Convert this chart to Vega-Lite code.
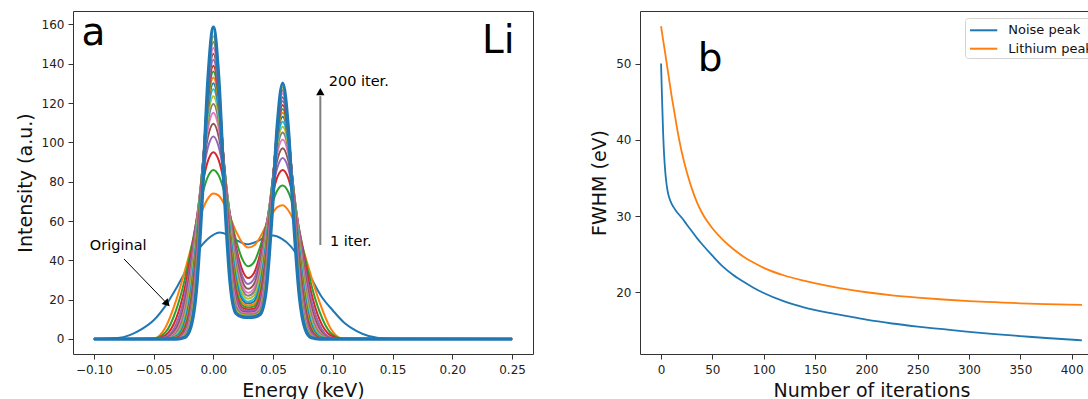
{
"$schema":"https://vega.github.io/schema/vega-lite/v6.json",
"padding":{"left":15,"top":10,"right":5,"bottom":5},
"config":{
"font":"DejaVu Sans",
"view":{"stroke":"#333","strokeWidth":1},
"axis":{"grid":false,"domain":false,"tickColor":"#333","tickSize":5,"tickWidth":1,"labelFont":"DejaVu Sans","labelFontSize":12,"labelColor":"#222","titleFont":"DejaVu Sans","titleFontSize":19,"titleFontWeight":"normal","titleColor":"#111","titlePadding":6,"labelPadding":4,"labelFlush":false,"labelOverlap":false,"labelBound":false},
"axisX":{"labelPadding":5},
"legend":{"orient":"top-right","offset":7,"labelFontSize":13,"labelColor":"#111","labelFont":"DejaVu Sans","symbolType":"M-0.81,0L2.22,0","symbolSize":324,"symbolStrokeWidth":2,"padding":2.3,"rowPadding":1.4,"labelOffset":21,"strokeColor":"#d3d3d3","fillColor":"#ffffff","cornerRadius":3}
},
"spacing":107,
"bounds":"flush",
"resolve":{"scale":{"color":"independent"},"legend":{"color":"independent"}},
"hconcat":[
{
"width":460,"height":343,
"encoding":{
"x":{"field":"e","type":"quantitative","title":"Energy (keV)","scale":{"domain":[-0.1175,0.2675],"nice":false,"zero":false},"axis":{"values":[-0.1,-0.05,0,0.05,0.1,0.15,0.2,0.25],"format":".2f"}},
"y":{"field":"i","type":"quantitative","title":"Intensity (a.u.)","scale":{"domain":[-7.63,166.8],"nice":false,"zero":false},"axis":{"values":[0,20,40,60,80,100,120,140,160]}}
},
"layer":[
{"data":{"name":"curves","values":[
{"k":0,"e":-0.1,"i":0},{"k":0,"e":-0.08,"i":0.5},{"k":0,"e":-0.07,"i":2},{"k":0,"e":-0.06,"i":5},{"k":0,"e":-0.05,"i":9.5},{"k":0,"e":-0.04,"i":17},{"k":0,"e":-0.03,"i":27},{"k":0,"e":-0.02,"i":38},{"k":0,"e":-0.01,"i":47.5},{"k":0,"e":0,"i":53},{"k":0,"e":0.005,"i":54.2},{"k":0,"e":0.012,"i":53},{"k":0,"e":0.02,"i":50},{"k":0,"e":0.028,"i":48.2},{"k":0,"e":0.036,"i":49.5},{"k":0,"e":0.044,"i":52},{"k":0,"e":0.05,"i":52.6},{"k":0,"e":0.057,"i":51},{"k":0,"e":0.065,"i":47},{"k":0,"e":0.073,"i":40},{"k":0,"e":0.08,"i":33},{"k":0,"e":0.09,"i":22},{"k":0,"e":0.1,"i":14.5},{"k":0,"e":0.11,"i":8},{"k":0,"e":0.12,"i":4},{"k":0,"e":0.13,"i":1.5},{"k":0,"e":0.14,"i":0.4},{"k":0,"e":0.15,"i":0},{"k":0,"e":0.25,"i":0},
{"k":1,"e":-0.1,"i":0},{"k":1,"e":-0.05,"i":0.3},{"k":1,"e":-0.04,"i":6},{"k":1,"e":-0.031,"i":20},{"k":1,"e":-0.024,"i":34.4},{"k":1,"e":-0.019,"i":45.6},{"k":1,"e":-0.014,"i":56.6},{"k":1,"e":-0.009,"i":65.8},{"k":1,"e":-0.0045,"i":71.5},{"k":1,"e":0,"i":74},{"k":1,"e":0.0045,"i":72.9},{"k":1,"e":0.009,"i":68.7},{"k":1,"e":0.014,"i":61.9},{"k":1,"e":0.019,"i":54.7},{"k":1,"e":0.024,"i":49.1},{"k":1,"e":0.029,"i":46.5},{"k":1,"e":0.034,"i":47.55},{"k":1,"e":0.039,"i":51.7},{"k":1,"e":0.044,"i":57.6},{"k":1,"e":0.049,"i":63.4},{"k":1,"e":0.0535,"i":67.1},{"k":1,"e":0.058,"i":68},{"k":1,"e":0.0625,"i":65.6},{"k":1,"e":0.067,"i":60.5},{"k":1,"e":0.072,"i":51.9},{"k":1,"e":0.077,"i":41.8},{"k":1,"e":0.082,"i":31.5},{"k":1,"e":0.089,"i":18.5},{"k":1,"e":0.098,"i":5.5},{"k":1,"e":0.108,"i":0.3},{"k":1,"e":0.25,"i":0},
{"k":2,"e":-0.1,"i":0},{"k":2,"e":-0.05,"i":0.3},{"k":2,"e":-0.04,"i":3.5},{"k":2,"e":-0.031,"i":15.1},{"k":2,"e":-0.024,"i":30.2},{"k":2,"e":-0.019,"i":44.6},{"k":2,"e":-0.014,"i":60.2},{"k":2,"e":-0.009,"i":74.1},{"k":2,"e":-0.0045,"i":82.7},{"k":2,"e":0,"i":86},{"k":2,"e":0.0045,"i":83.1},{"k":2,"e":0.009,"i":75.2},{"k":2,"e":0.014,"i":62.8},{"k":2,"e":0.019,"i":50.2},{"k":2,"e":0.024,"i":40.9},{"k":2,"e":0.029,"i":37},{"k":2,"e":0.034,"i":39.1},{"k":2,"e":0.039,"i":46.6},{"k":2,"e":0.044,"i":57.5},{"k":2,"e":0.049,"i":68.4},{"k":2,"e":0.0535,"i":75.5},{"k":2,"e":0.058,"i":78},{"k":2,"e":0.0625,"i":75},{"k":2,"e":0.067,"i":67.2},{"k":2,"e":0.072,"i":54.6},{"k":2,"e":0.077,"i":40.5},{"k":2,"e":0.082,"i":27.4},{"k":2,"e":0.089,"i":13.65},{"k":2,"e":0.098,"i":3.2},{"k":2,"e":0.108,"i":0.2},{"k":2,"e":0.25,"i":0},
{"k":3,"e":-0.1,"i":0},{"k":3,"e":-0.05,"i":0},{"k":3,"e":-0.04,"i":2},{"k":3,"e":-0.031,"i":10.75},{"k":3,"e":-0.024,"i":25.7},{"k":3,"e":-0.019,"i":41.9},{"k":3,"e":-0.014,"i":60.9},{"k":3,"e":-0.009,"i":79.1},{"k":3,"e":-0.0045,"i":90.7},{"k":3,"e":0,"i":95},{"k":3,"e":0.0045,"i":90.8},{"k":3,"e":0.009,"i":79.7},{"k":3,"e":0.014,"i":62.8},{"k":3,"e":0.019,"i":46.7},{"k":3,"e":0.024,"i":35.4},{"k":3,"e":0.029,"i":31},{"k":3,"e":0.034,"i":33.6},{"k":3,"e":0.039,"i":43},{"k":3,"e":0.044,"i":57.1},{"k":3,"e":0.049,"i":72.2},{"k":3,"e":0.0535,"i":82.3},{"k":3,"e":0.058,"i":86},{"k":3,"e":0.0625,"i":82.1},{"k":3,"e":0.067,"i":71.6},{"k":3,"e":0.072,"i":55.1},{"k":3,"e":0.077,"i":37.9},{"k":3,"e":0.082,"i":23.3},{"k":3,"e":0.089,"i":9.7},{"k":3,"e":0.098,"i":1.8},{"k":3,"e":0.108,"i":0},{"k":3,"e":0.25,"i":0},
{"k":4,"e":-0.1,"i":0},{"k":4,"e":-0.05,"i":0},{"k":4,"e":-0.04,"i":1},{"k":4,"e":-0.031,"i":7.8},{"k":4,"e":-0.024,"i":21.9},{"k":4,"e":-0.019,"i":39.1},{"k":4,"e":-0.014,"i":60.9},{"k":4,"e":-0.009,"i":82.9},{"k":4,"e":-0.0045,"i":97.6},{"k":4,"e":0,"i":103},{"k":4,"e":0.0045,"i":97.6},{"k":4,"e":0.009,"i":83.5},{"k":4,"e":0.014,"i":63},{"k":4,"e":0.019,"i":44.5},{"k":4,"e":0.024,"i":32.4},{"k":4,"e":0.029,"i":28},{"k":4,"e":0.034,"i":30.6},{"k":4,"e":0.039,"i":40.4},{"k":4,"e":0.044,"i":56.6},{"k":4,"e":0.049,"i":74.6},{"k":4,"e":0.0535,"i":87.1},{"k":4,"e":0.058,"i":92},{"k":4,"e":0.0625,"i":87.1},{"k":4,"e":0.067,"i":74},{"k":4,"e":0.072,"i":54.4},{"k":4,"e":0.077,"i":34.9},{"k":4,"e":0.082,"i":19.6},{"k":4,"e":0.089,"i":7},{"k":4,"e":0.098,"i":0.8},{"k":4,"e":0.108,"i":0},{"k":4,"e":0.25,"i":0},
{"k":5,"e":-0.1,"i":0},{"k":5,"e":-0.05,"i":0},{"k":5,"e":-0.04,"i":0.5},{"k":5,"e":-0.031,"i":5.6},{"k":5,"e":-0.024,"i":18.5},{"k":5,"e":-0.019,"i":35.9},{"k":5,"e":-0.014,"i":59.8},{"k":5,"e":-0.009,"i":85.3},{"k":5,"e":-0.0045,"i":102.9},{"k":5,"e":0,"i":109.5},{"k":5,"e":0.0045,"i":102.9},{"k":5,"e":0.009,"i":86},{"k":5,"e":0.014,"i":62.2},{"k":5,"e":0.019,"i":41.9},{"k":5,"e":0.024,"i":29.7},{"k":5,"e":0.029,"i":25.5},{"k":5,"e":0.034,"i":28},{"k":5,"e":0.039,"i":37.9},{"k":5,"e":0.044,"i":55.4},{"k":5,"e":0.049,"i":76.1},{"k":5,"e":0.0535,"i":91.1},{"k":5,"e":0.058,"i":97},{"k":5,"e":0.0625,"i":91.1},{"k":5,"e":0.067,"i":75.5},{"k":5,"e":0.072,"i":53},{"k":5,"e":0.077,"i":31.8},{"k":5,"e":0.082,"i":16.4},{"k":5,"e":0.089,"i":5},{"k":5,"e":0.098,"i":0.4},{"k":5,"e":0.108,"i":0},{"k":5,"e":0.25,"i":0},
{"k":6,"e":-0.1,"i":0},{"k":6,"e":-0.05,"i":0},{"k":6,"e":-0.04,"i":0.2},{"k":6,"e":-0.031,"i":4.1},{"k":6,"e":-0.024,"i":15.7},{"k":6,"e":-0.019,"i":33},{"k":6,"e":-0.014,"i":58.4},{"k":6,"e":-0.009,"i":86.9},{"k":6,"e":-0.0045,"i":107.2},{"k":6,"e":0,"i":115},{"k":6,"e":0.0045,"i":107.2},{"k":6,"e":0.009,"i":87.6},{"k":6,"e":0.014,"i":61},{"k":6,"e":0.019,"i":39.4},{"k":6,"e":0.024,"i":27.4},{"k":6,"e":0.029,"i":23.5},{"k":6,"e":0.034,"i":25.7},{"k":6,"e":0.039,"i":35.6},{"k":6,"e":0.044,"i":54.1},{"k":6,"e":0.049,"i":77.4},{"k":6,"e":0.0535,"i":94.6},{"k":6,"e":0.058,"i":101.5},{"k":6,"e":0.0625,"i":94.6},{"k":6,"e":0.067,"i":76.7},{"k":6,"e":0.072,"i":51.5},{"k":6,"e":0.077,"i":29.1},{"k":6,"e":0.082,"i":13.8},{"k":6,"e":0.089,"i":3.65},{"k":6,"e":0.098,"i":0.2},{"k":6,"e":0.108,"i":0},{"k":6,"e":0.25,"i":0},
{"k":7,"e":-0.1,"i":0},{"k":7,"e":-0.05,"i":0},{"k":7,"e":-0.04,"i":0},{"k":7,"e":-0.031,"i":3.1},{"k":7,"e":-0.024,"i":13.3},{"k":7,"e":-0.019,"i":30.2},{"k":7,"e":-0.014,"i":56.6},{"k":7,"e":-0.009,"i":87.8},{"k":7,"e":-0.0045,"i":110.6},{"k":7,"e":0,"i":119.5},{"k":7,"e":0.0045,"i":110.6},{"k":7,"e":0.009,"i":88.6},{"k":7,"e":0.014,"i":59.4},{"k":7,"e":0.019,"i":37},{"k":7,"e":0.024,"i":25.4},{"k":7,"e":0.029,"i":22},{"k":7,"e":0.034,"i":24},{"k":7,"e":0.039,"i":33.3},{"k":7,"e":0.044,"i":52.5},{"k":7,"e":0.049,"i":77.9},{"k":7,"e":0.0535,"i":97.2},{"k":7,"e":0.058,"i":105},{"k":7,"e":0.0625,"i":97.2},{"k":7,"e":0.067,"i":77.1},{"k":7,"e":0.072,"i":49.8},{"k":7,"e":0.077,"i":26.5},{"k":7,"e":0.082,"i":11.7},{"k":7,"e":0.089,"i":2.7},{"k":7,"e":0.098,"i":0.1},{"k":7,"e":0.108,"i":0},{"k":7,"e":0.25,"i":0},
{"k":8,"e":-0.1,"i":0},{"k":8,"e":-0.05,"i":0},{"k":8,"e":-0.04,"i":0},{"k":8,"e":-0.031,"i":2.3},{"k":8,"e":-0.024,"i":11.2},{"k":8,"e":-0.019,"i":27.5},{"k":8,"e":-0.014,"i":54.6},{"k":8,"e":-0.009,"i":88.2},{"k":8,"e":-0.0045,"i":113.5},{"k":8,"e":0,"i":123.5},{"k":8,"e":0.0045,"i":113.5},{"k":8,"e":0.009,"i":89},{"k":8,"e":0.014,"i":57.4},{"k":8,"e":0.019,"i":34.4},{"k":8,"e":0.024,"i":23.4},{"k":8,"e":0.029,"i":20.5},{"k":8,"e":0.034,"i":22.1},{"k":8,"e":0.039,"i":31},{"k":8,"e":0.044,"i":50.6},{"k":8,"e":0.049,"i":77.9},{"k":8,"e":0.0535,"i":99.3},{"k":8,"e":0.058,"i":108},{"k":8,"e":0.0625,"i":99.3},{"k":8,"e":0.067,"i":77.1},{"k":8,"e":0.072,"i":47.8},{"k":8,"e":0.077,"i":24},{"k":8,"e":0.082,"i":9.8},{"k":8,"e":0.089,"i":2},{"k":8,"e":0.098,"i":0},{"k":8,"e":0.108,"i":0},{"k":8,"e":0.25,"i":0},
{"k":9,"e":-0.1,"i":0},{"k":9,"e":-0.05,"i":0},{"k":9,"e":-0.04,"i":0},{"k":9,"e":-0.031,"i":1.7},{"k":9,"e":-0.024,"i":9.5},{"k":9,"e":-0.019,"i":25},{"k":9,"e":-0.014,"i":52.5},{"k":9,"e":-0.009,"i":88.2},{"k":9,"e":-0.0045,"i":115.9},{"k":9,"e":0,"i":127},{"k":9,"e":0.0045,"i":115.9},{"k":9,"e":0.009,"i":89},{"k":9,"e":0.014,"i":55.4},{"k":9,"e":0.019,"i":31.9},{"k":9,"e":0.024,"i":21.5},{"k":9,"e":0.029,"i":19},{"k":9,"e":0.034,"i":20.4},{"k":9,"e":0.039,"i":28.6},{"k":9,"e":0.044,"i":48.6},{"k":9,"e":0.049,"i":77.5},{"k":9,"e":0.0535,"i":100.9},{"k":9,"e":0.058,"i":110.5},{"k":9,"e":0.0625,"i":100.9},{"k":9,"e":0.067,"i":76.7},{"k":9,"e":0.072,"i":45.7},{"k":9,"e":0.077,"i":21.7},{"k":9,"e":0.082,"i":8.25},{"k":9,"e":0.089,"i":1.5},{"k":9,"e":0.098,"i":0},{"k":9,"e":0.108,"i":0},{"k":9,"e":0.25,"i":0},
{"k":10,"e":-0.1,"i":0},{"k":10,"e":-0.05,"i":0},{"k":10,"e":-0.04,"i":0},{"k":10,"e":-0.031,"i":1.26},{"k":10,"e":-0.024,"i":8.1},{"k":10,"e":-0.019,"i":22.8},{"k":10,"e":-0.014,"i":50.5},{"k":10,"e":-0.009,"i":88},{"k":10,"e":-0.0045,"i":117.9},{"k":10,"e":0,"i":130},{"k":10,"e":0.0045,"i":117.9},{"k":10,"e":0.009,"i":88.8},{"k":10,"e":0.014,"i":53.4},{"k":10,"e":0.019,"i":29.7},{"k":10,"e":0.024,"i":20.1},{"k":10,"e":0.029,"i":18},{"k":10,"e":0.034,"i":19.1},{"k":10,"e":0.039,"i":26.7},{"k":10,"e":0.044,"i":46.8},{"k":10,"e":0.049,"i":77.3},{"k":10,"e":0.0535,"i":102.5},{"k":10,"e":0.058,"i":113},{"k":10,"e":0.0625,"i":102.5},{"k":10,"e":0.067,"i":76.5},{"k":10,"e":0.072,"i":43.9},{"k":10,"e":0.077,"i":19.8},{"k":10,"e":0.082,"i":7},{"k":10,"e":0.089,"i":1.1},{"k":10,"e":0.098,"i":0},{"k":10,"e":0.108,"i":0},{"k":10,"e":0.25,"i":0},
{"k":11,"e":-0.1,"i":0},{"k":11,"e":-0.05,"i":0},{"k":11,"e":-0.04,"i":0},{"k":11,"e":-0.031,"i":0.9},{"k":11,"e":-0.024,"i":6.7},{"k":11,"e":-0.019,"i":20.5},{"k":11,"e":-0.014,"i":48.2},{"k":11,"e":-0.009,"i":87.5},{"k":11,"e":-0.0045,"i":119.8},{"k":11,"e":0,"i":133},{"k":11,"e":0.0045,"i":119.8},{"k":11,"e":0.009,"i":88.3},{"k":11,"e":0.014,"i":51.1},{"k":11,"e":0.019,"i":27.4},{"k":11,"e":0.024,"i":18.6},{"k":11,"e":0.029,"i":17},{"k":11,"e":0.034,"i":17.8},{"k":11,"e":0.039,"i":24.7},{"k":11,"e":0.044,"i":44.6},{"k":11,"e":0.049,"i":76.4},{"k":11,"e":0.0535,"i":103.6},{"k":11,"e":0.058,"i":115},{"k":11,"e":0.0625,"i":103.6},{"k":11,"e":0.067,"i":75.6},{"k":11,"e":0.072,"i":41.7},{"k":11,"e":0.077,"i":17.8},{"k":11,"e":0.082,"i":5.8},{"k":11,"e":0.089,"i":0.8},{"k":11,"e":0.098,"i":0},{"k":11,"e":0.108,"i":0},{"k":11,"e":0.25,"i":0},
{"k":12,"e":-0.1,"i":0},{"k":12,"e":-0.05,"i":0},{"k":12,"e":-0.04,"i":0},{"k":12,"e":-0.031,"i":0.7},{"k":12,"e":-0.024,"i":5.8},{"k":12,"e":-0.019,"i":18.8},{"k":12,"e":-0.014,"i":46.4},{"k":12,"e":-0.009,"i":87.2},{"k":12,"e":-0.0045,"i":121.7},{"k":12,"e":0,"i":136},{"k":12,"e":0.0045,"i":121.7},{"k":12,"e":0.009,"i":88},{"k":12,"e":0.014,"i":49.2},{"k":12,"e":0.019,"i":25.6},{"k":12,"e":0.024,"i":17.3},{"k":12,"e":0.029,"i":16},{"k":12,"e":0.034,"i":16.6},{"k":12,"e":0.039,"i":22.9},{"k":12,"e":0.044,"i":42.7},{"k":12,"e":0.049,"i":75.8},{"k":12,"e":0.0535,"i":104.7},{"k":12,"e":0.058,"i":117},{"k":12,"e":0.0625,"i":104.7},{"k":12,"e":0.067,"i":75},{"k":12,"e":0.072,"i":39.9},{"k":12,"e":0.077,"i":16.1},{"k":12,"e":0.082,"i":5},{"k":12,"e":0.089,"i":0.6},{"k":12,"e":0.098,"i":0},{"k":12,"e":0.108,"i":0},{"k":12,"e":0.25,"i":0},
{"k":13,"e":-0.1,"i":0},{"k":13,"e":-0.05,"i":0},{"k":13,"e":-0.04,"i":0},{"k":13,"e":-0.031,"i":0.5},{"k":13,"e":-0.024,"i":4.9},{"k":13,"e":-0.019,"i":17},{"k":13,"e":-0.014,"i":44.4},{"k":13,"e":-0.009,"i":86.7},{"k":13,"e":-0.0045,"i":123.5},{"k":13,"e":0,"i":139},{"k":13,"e":0.0045,"i":123.5},{"k":13,"e":0.009,"i":87.5},{"k":13,"e":0.014,"i":47.2},{"k":13,"e":0.019,"i":23.6},{"k":13,"e":0.024,"i":16},{"k":13,"e":0.029,"i":15},{"k":13,"e":0.034,"i":15.4},{"k":13,"e":0.039,"i":21.1},{"k":13,"e":0.044,"i":40.7},{"k":13,"e":0.049,"i":75},{"k":13,"e":0.0535,"i":105.8},{"k":13,"e":0.058,"i":119},{"k":13,"e":0.0625,"i":105.8},{"k":13,"e":0.067,"i":74.2},{"k":13,"e":0.072,"i":38},{"k":13,"e":0.077,"i":14.5},{"k":13,"e":0.082,"i":4.15},{"k":13,"e":0.089,"i":0.5},{"k":13,"e":0.098,"i":0},{"k":13,"e":0.108,"i":0},{"k":13,"e":0.25,"i":0},
{"k":14,"e":-0.1,"i":0},{"k":14,"e":-0.05,"i":0},{"k":14,"e":-0.04,"i":0},{"k":14,"e":-0.031,"i":0.3},{"k":14,"e":-0.024,"i":4},{"k":14,"e":-0.019,"i":15.1},{"k":14,"e":-0.014,"i":42.1},{"k":14,"e":-0.009,"i":85.9},{"k":14,"e":-0.0045,"i":125.2},{"k":14,"e":0,"i":142},{"k":14,"e":0.0045,"i":125.2},{"k":14,"e":0.009,"i":86.7},{"k":14,"e":0.014,"i":44.8},{"k":14,"e":0.019,"i":21.6},{"k":14,"e":0.024,"i":15},{"k":14,"e":0.029,"i":14.3},{"k":14,"e":0.034,"i":14.5},{"k":14,"e":0.039,"i":19.4},{"k":14,"e":0.044,"i":38.6},{"k":14,"e":0.049,"i":74},{"k":14,"e":0.0535,"i":106.7},{"k":14,"e":0.058,"i":121},{"k":14,"e":0.0625,"i":106.7},{"k":14,"e":0.067,"i":73.2},{"k":14,"e":0.072,"i":35.9},{"k":14,"e":0.077,"i":12.9},{"k":14,"e":0.082,"i":3.4},{"k":14,"e":0.089,"i":0.3},{"k":14,"e":0.098,"i":0},{"k":14,"e":0.108,"i":0},{"k":14,"e":0.25,"i":0},
{"k":15,"e":-0.1,"i":0},{"k":15,"e":-0.05,"i":0},{"k":15,"e":-0.04,"i":0},{"k":15,"e":-0.031,"i":0.2},{"k":15,"e":-0.024,"i":3.2},{"k":15,"e":-0.019,"i":13.3},{"k":15,"e":-0.014,"i":39.7},{"k":15,"e":-0.009,"i":84.9},{"k":15,"e":-0.0045,"i":126.8},{"k":15,"e":0,"i":145},{"k":15,"e":0.0045,"i":126.8},{"k":15,"e":0.009,"i":85.7},{"k":15,"e":0.014,"i":42.4},{"k":15,"e":0.019,"i":19.6},{"k":15,"e":0.024,"i":14},{"k":15,"e":0.029,"i":13.6},{"k":15,"e":0.034,"i":13.7},{"k":15,"e":0.039,"i":17.6},{"k":15,"e":0.044,"i":36.3},{"k":15,"e":0.049,"i":72.8},{"k":15,"e":0.0535,"i":107.6},{"k":15,"e":0.058,"i":123},{"k":15,"e":0.0625,"i":107.6},{"k":15,"e":0.067,"i":72},{"k":15,"e":0.072,"i":33.7},{"k":15,"e":0.077,"i":11.3},{"k":15,"e":0.082,"i":2.7},{"k":15,"e":0.089,"i":0.2},{"k":15,"e":0.098,"i":0},{"k":15,"e":0.108,"i":0},{"k":15,"e":0.25,"i":0},
{"k":16,"e":-0.1,"i":0},{"k":16,"e":-0.05,"i":0},{"k":16,"e":-0.04,"i":0},{"k":16,"e":-0.031,"i":0.1},{"k":16,"e":-0.024,"i":2.7},{"k":16,"e":-0.019,"i":12.1},{"k":16,"e":-0.014,"i":37.9},{"k":16,"e":-0.009,"i":84.3},{"k":16,"e":-0.0045,"i":128.6},{"k":16,"e":0,"i":148},{"k":16,"e":0.0045,"i":128.6},{"k":16,"e":0.009,"i":85},{"k":16,"e":0.014,"i":40.5},{"k":16,"e":0.019,"i":18.2},{"k":16,"e":0.024,"i":13.4},{"k":16,"e":0.029,"i":13},{"k":16,"e":0.034,"i":13.2},{"k":16,"e":0.039,"i":16.3},{"k":16,"e":0.044,"i":34.6},{"k":16,"e":0.049,"i":71.9},{"k":16,"e":0.0535,"i":108.6},{"k":16,"e":0.058,"i":125},{"k":16,"e":0.0625,"i":108.6},{"k":16,"e":0.067,"i":71.2},{"k":16,"e":0.072,"i":32.1},{"k":16,"e":0.077,"i":10.2},{"k":16,"e":0.082,"i":2.3},{"k":16,"e":0.089,"i":0.1},{"k":16,"e":0.098,"i":0},{"k":16,"e":0.108,"i":0},{"k":16,"e":0.25,"i":0},
{"k":17,"e":-0.1,"i":0},{"k":17,"e":-0.05,"i":0},{"k":17,"e":-0.04,"i":0},{"k":17,"e":-0.031,"i":0},{"k":17,"e":-0.024,"i":2.1},{"k":17,"e":-0.019,"i":10.3},{"k":17,"e":-0.014,"i":35.2},{"k":17,"e":-0.009,"i":82.7},{"k":17,"e":-0.0045,"i":129.9},{"k":17,"e":0,"i":151},{"k":17,"e":0.0045,"i":129.9},{"k":17,"e":0.009,"i":83.4},{"k":17,"e":0.014,"i":37.7},{"k":17,"e":0.019,"i":16.3},{"k":17,"e":0.024,"i":12.8},{"k":17,"e":0.029,"i":12.4},{"k":17,"e":0.034,"i":12.6},{"k":17,"e":0.039,"i":14.6},{"k":17,"e":0.044,"i":32},{"k":17,"e":0.049,"i":70},{"k":17,"e":0.0535,"i":108.8},{"k":17,"e":0.058,"i":126.5},{"k":17,"e":0.0625,"i":108.8},{"k":17,"e":0.067,"i":69.3},{"k":17,"e":0.072,"i":29.5},{"k":17,"e":0.077,"i":8.65},{"k":17,"e":0.082,"i":1.75},{"k":17,"e":0.089,"i":0},{"k":17,"e":0.098,"i":0},{"k":17,"e":0.108,"i":0},{"k":17,"e":0.25,"i":0},
{"k":18,"e":-0.1,"i":0},{"k":18,"e":-0.05,"i":0},{"k":18,"e":-0.04,"i":0},{"k":18,"e":-0.031,"i":0},{"k":18,"e":-0.024,"i":1.6},{"k":18,"e":-0.019,"i":8.7},{"k":18,"e":-0.014,"i":32.3},{"k":18,"e":-0.009,"i":80.7},{"k":18,"e":-0.0045,"i":131.1},{"k":18,"e":0,"i":154},{"k":18,"e":0.0045,"i":131.1},{"k":18,"e":0.009,"i":81.4},{"k":18,"e":0.014,"i":34.7},{"k":18,"e":0.019,"i":14.4},{"k":18,"e":0.024,"i":12.2},{"k":18,"e":0.029,"i":11.8},{"k":18,"e":0.034,"i":12},{"k":18,"e":0.039,"i":13.5},{"k":18,"e":0.044,"i":29.2},{"k":18,"e":0.049,"i":67.8},{"k":18,"e":0.0535,"i":108.9},{"k":18,"e":0.058,"i":128},{"k":18,"e":0.0625,"i":108.9},{"k":18,"e":0.067,"i":67.1},{"k":18,"e":0.072,"i":26.8},{"k":18,"e":0.077,"i":7.2},{"k":18,"e":0.082,"i":1.3},{"k":18,"e":0.089,"i":0},{"k":18,"e":0.098,"i":0},{"k":18,"e":0.108,"i":0},{"k":18,"e":0.25,"i":0},
{"k":19,"e":-0.1,"i":0},{"k":19,"e":-0.05,"i":0},{"k":19,"e":-0.04,"i":0},{"k":19,"e":-0.031,"i":0},{"k":19,"e":-0.024,"i":0.85},{"k":19,"e":-0.019,"i":6},{"k":19,"e":-0.014,"i":26.8},{"k":19,"e":-0.009,"i":76},{"k":19,"e":-0.0045,"i":131.9},{"k":19,"e":0,"i":158.5},{"k":19,"e":0.0045,"i":131.9},{"k":19,"e":0.009,"i":76.7},{"k":19,"e":0.014,"i":29.1},{"k":19,"e":0.019,"i":13},{"k":19,"e":0.024,"i":11.3},{"k":19,"e":0.029,"i":11},{"k":19,"e":0.034,"i":11.2},{"k":19,"e":0.039,"i":12.5},{"k":19,"e":0.044,"i":24.3},{"k":19,"e":0.049,"i":63},{"k":19,"e":0.0535,"i":108.2},{"k":19,"e":0.058,"i":130},{"k":19,"e":0.0625,"i":108.2},{"k":19,"e":0.067,"i":62.4},{"k":19,"e":0.072,"i":22},{"k":19,"e":0.077,"i":4.9},{"k":19,"e":0.082,"i":0.7},{"k":19,"e":0.089,"i":0},{"k":19,"e":0.098,"i":0},{"k":19,"e":0.108,"i":0},{"k":19,"e":0.25,"i":0}
]},
"transform":[{"filter":"datum.k < 19"}],
"mark":{"type":"line","strokeWidth":2,"interpolate":"monotone"},
"encoding":{"color":{"field":"k","type":"nominal","legend":null,"scale":{"domain":[0,1,2,3,4,5,6,7,8,9,10,11,12,13,14,15,16,17,18],"range":["#1f77b4","#ff7f0e","#2ca02c","#d62728","#9467bd","#8c564b","#e377c2","#7f7f7f","#bcbd22","#17becf","#1f77b4","#ff7f0e","#2ca02c","#d62728","#9467bd","#8c564b","#e377c2","#7f7f7f","#bcbd22"]}}}
},
{"data":{"name":"curves"},
"transform":[{"filter":"datum.k == 19"}],
"mark":{"type":"line","strokeWidth":3.5,"interpolate":"monotone","color":"#1f77b4"},
"encoding":{}
},
{"data":{"values":[{"e":0.0895,"i":47.8,"e2":0.0895,"i2":123.5}]},
"mark":{"type":"rule","color":"#808080","strokeWidth":2},
"encoding":{"x2":{"field":"e2"},"y2":{"field":"i2"}}
},
{"data":{"values":[{"e":-0.0748,"i":40.7,"e2":-0.0387,"i2":17.96}]},
"mark":{"type":"rule","color":"#000000","strokeWidth":1},
"encoding":{"x2":{"field":"e2"},"y2":{"field":"i2"}}
},
{"data":{"values":[{"e":0.0895,"i":125.8}]},
"mark":{"type":"point","shape":"triangle-up","filled":true,"color":"#000000","opacity":1,"size":70},
"encoding":{}
},
{"data":{"values":[{"e":-0.0387,"i":17.96}]},
"mark":{"type":"point","shape":"triangle-up","filled":true,"color":"#000000","opacity":1,"size":70,"angle":136},
"encoding":{}
},
{"data":{"values":[{"e":0.0965,"i":130.9,"t":"200 iter."},{"e":0.0976,"i":49.4,"t":"1 iter."},{"e":-0.1034,"i":47.4,"t":"Original"}]},
"mark":{"type":"text","fontSize":14.5,"align":"left","baseline":"middle","color":"#000000","font":"DejaVu Sans"},
"encoding":{"text":{"field":"t"}}
},
{"data":{"values":[{"e":-0.1103,"i":149.5,"t":"a"}]},
"mark":{"type":"text","fontSize":39,"align":"left","baseline":"alphabetic","color":"#000000","font":"DejaVu Sans"},
"encoding":{"text":{"field":"t"}}
},
{"data":{"values":[{"e":0.2521,"i":145.6,"t":"Li"}]},
"mark":{"type":"text","fontSize":39,"align":"right","baseline":"alphabetic","color":"#000000","font":"DejaVu Sans"},
"encoding":{"text":{"field":"t"}}
}
]
},
{
"width":463,"height":343,
"encoding":{
"x":{"field":"n","type":"quantitative","title":"Number of iterations","scale":{"domain":[-20.5,430.5],"nice":false,"zero":false},"axis":{"values":[0,50,100,150,200,250,300,350,400]}},
"y":{"field":"f","type":"quantitative","title":"FWHM (eV)","scale":{"domain":[11.9,56.9],"nice":false,"zero":false},"axis":{"values":[20,30,40,50]}}
},
"layer":[
{"data":{"values":[
{"s":"Noise peak","n":0,"f":50},{"s":"Noise peak","n":1,"f":45.3},{"s":"Noise peak","n":2,"f":41},{"s":"Noise peak","n":3,"f":38},{"s":"Noise peak","n":4,"f":36},{"s":"Noise peak","n":5,"f":34.6},{"s":"Noise peak","n":6,"f":33.6},{"s":"Noise peak","n":7,"f":32.9},{"s":"Noise peak","n":8,"f":32.4},{"s":"Noise peak","n":10,"f":31.7},{"s":"Noise peak","n":12,"f":31.2},{"s":"Noise peak","n":15,"f":30.6},{"s":"Noise peak","n":20,"f":29.8},{"s":"Noise peak","n":25,"f":28.9},{"s":"Noise peak","n":30,"f":28},{"s":"Noise peak","n":35,"f":27.1},{"s":"Noise peak","n":40,"f":26.3},{"s":"Noise peak","n":50,"f":24.8},{"s":"Noise peak","n":60,"f":23.4},{"s":"Noise peak","n":70,"f":22.3},{"s":"Noise peak","n":80,"f":21.4},{"s":"Noise peak","n":90,"f":20.6},{"s":"Noise peak","n":100,"f":19.9},{"s":"Noise peak","n":120,"f":18.8},{"s":"Noise peak","n":140,"f":18},{"s":"Noise peak","n":160,"f":17.4},{"s":"Noise peak","n":180,"f":16.9},{"s":"Noise peak","n":200,"f":16.4},{"s":"Noise peak","n":225,"f":15.9},{"s":"Noise peak","n":250,"f":15.5},{"s":"Noise peak","n":275,"f":15.15},{"s":"Noise peak","n":300,"f":14.8},{"s":"Noise peak","n":325,"f":14.5},{"s":"Noise peak","n":350,"f":14.25},{"s":"Noise peak","n":375,"f":14},{"s":"Noise peak","n":410,"f":13.7},
{"s":"Lithium peak","n":0,"f":54.9},{"s":"Lithium peak","n":2,"f":53.1},{"s":"Lithium peak","n":4,"f":51.4},{"s":"Lithium peak","n":6,"f":49.6},{"s":"Lithium peak","n":8,"f":47.8},{"s":"Lithium peak","n":10,"f":46},{"s":"Lithium peak","n":12,"f":44.4},{"s":"Lithium peak","n":14,"f":42.8},{"s":"Lithium peak","n":16,"f":41.2},{"s":"Lithium peak","n":18,"f":39.8},{"s":"Lithium peak","n":20,"f":38.5},{"s":"Lithium peak","n":25,"f":35.8},{"s":"Lithium peak","n":30,"f":33.6},{"s":"Lithium peak","n":35,"f":31.8},{"s":"Lithium peak","n":40,"f":30.4},{"s":"Lithium peak","n":50,"f":28.4},{"s":"Lithium peak","n":60,"f":26.9},{"s":"Lithium peak","n":70,"f":25.7},{"s":"Lithium peak","n":80,"f":24.7},{"s":"Lithium peak","n":90,"f":23.9},{"s":"Lithium peak","n":100,"f":23.2},{"s":"Lithium peak","n":120,"f":22.2},{"s":"Lithium peak","n":140,"f":21.5},{"s":"Lithium peak","n":160,"f":20.9},{"s":"Lithium peak","n":180,"f":20.4},{"s":"Lithium peak","n":200,"f":20},{"s":"Lithium peak","n":225,"f":19.6},{"s":"Lithium peak","n":250,"f":19.3},{"s":"Lithium peak","n":275,"f":19.05},{"s":"Lithium peak","n":300,"f":18.85},{"s":"Lithium peak","n":325,"f":18.7},{"s":"Lithium peak","n":350,"f":18.55},{"s":"Lithium peak","n":375,"f":18.45},{"s":"Lithium peak","n":410,"f":18.35}
]},
"mark":{"type":"line","strokeWidth":1.8,"interpolate":"monotone"},
"encoding":{"color":{"field":"s","type":"nominal","scale":{"domain":["Noise peak","Lithium peak"],"range":["#1f77b4","#ff7f0e"]},"legend":{"title":null}}}
},
{"data":{"values":[{"n":35.7,"f":49.04,"t":"b"}]},
"mark":{"type":"text","fontSize":39,"align":"left","baseline":"alphabetic","color":"#000000","font":"DejaVu Sans"},
"encoding":{"text":{"field":"t"}}
}
]
}
]
}
